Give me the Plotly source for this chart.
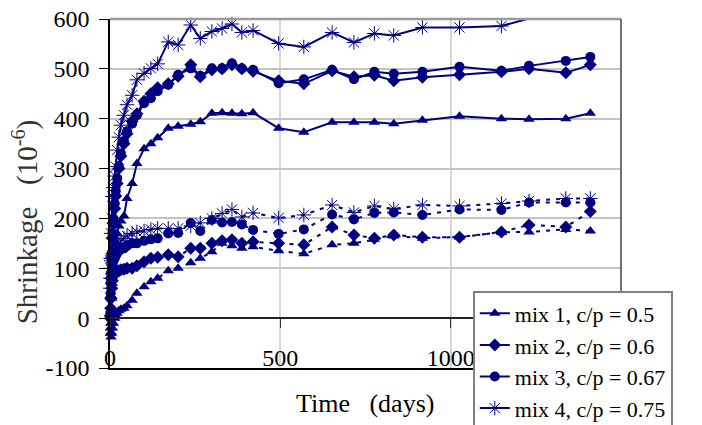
import plotly.graph_objects as go

# Time (days)
t = [1, 2, 3, 5, 7, 10, 14, 17, 21, 26, 32, 41, 50, 65, 79, 100, 120, 140,
     171, 200, 237, 265, 299, 329, 358, 387, 420, 495, 569, 652, 716, 776,
     833, 917, 1026, 1149, 1230, 1338, 1410]

# Solid series (upper curves)
s1 = [-30, -10, 10, 40, 70, 100, 130, 150, 170, 185, 195, 205, 240, 270, 310, 340, 350, 362,
      381, 385, 389, 394, 411, 412, 411, 410, 412, 381, 373, 393, 393, 393,
      390, 397, 405, 400, 399, 400, 411]
s2 = [5, 40, 80, 120, 160, 190, 220, 245, 270, 300, 325, 350, 370, 395, 410, 435, 450, 462,
      470, 485, 508, 484, 498, 500, 508, 500, 495, 476, 470, 496, 484, 487,
      476, 483, 488, 494, 500, 492, 508]
s3 = [10, 50, 90, 130, 170, 200, 230, 255, 280, 305, 330, 355, 375, 390, 407, 431, 441, 455,
      468, 488, 501, 486, 501, 501, 511, 501, 498, 471, 479, 498, 479, 494,
      490, 494, 504, 496, 506, 516, 524]
s4 = [60, 120, 170, 200, 244, 262, 285, 304, 337, 363, 387, 407, 428, 447, 478, 491, 501, 510,
      554, 548, 588, 561, 575, 581, 590, 573, 577, 551, 544, 573, 553, 571,
      567, 583, 583, 586, 601, 601, 606]

# Dotted series (lower curves)
d1 = [-20, -30, -38, -30, -20, -10, 0, 5, 10, 15, 18, 20, 25, 36, 50, 63, 73, 80,
      95, 100, 111, 120, 133, 150, 145, 140, 143, 135, 129, 147, 150, 158,
      165, 160, 163, 172, 173, 178, 175]
d2 = [0, 20, 40, 60, 75, 85, 90, 95, 95, 95, 97, 98, 100, 100, 105, 113, 120, 122,
      127, 123, 140, 140, 150, 155, 157, 150, 153, 150, 147, 183, 167, 160,
      167, 162, 162, 173, 187, 183, 214]
d3 = [40, 70, 90, 100, 110, 115, 120, 125, 130, 135, 138, 140, 145, 150, 150, 155, 158, 160,
      170, 171, 191, 175, 197, 192, 193, 188, 177, 169, 178, 208, 198, 211,
      212, 207, 218, 217, 232, 232, 232]
d4 = [80, 100, 115, 120, 125, 130, 135, 140, 145, 150, 155, 160, 165, 170, 173, 175, 178, 180,
      180, 180, 185, 191, 200, 210, 218, 203, 211, 201, 207, 227, 212, 225,
      219, 227, 225, 230, 235, 240, 240]

names = ["mix 1, c/p = 0.5", "mix 2, c/p = 0.6", "mix 3, c/p = 0.67", "mix 4, c/p = 0.75"]
solid = [s1, s2, s3, s4]
dotted = [d1, d2, d3, d4]
x_ticks = [0, 500, 1000, 1500]
x_ticktext = ["0", "500", "1000", "1500"]
y_ticks = [-100, 0, 100, 200, 300, 400, 500, 600]
y_ticktext = ["-100", "0", "100", "200", "300", "400", "500", "600"]

NAVY = "#000080"
SERIF = "Liberation Serif"
symbols = ["triangle-up", "diamond", "circle", "asterisk-open"]
sizes = [10, 10, 10, 12]

fig = go.Figure()

for i in range(4):
    mk = dict(symbol=symbols[i], size=sizes[i], color=NAVY,
              line=dict(color=NAVY, width=1 if i == 3 else 0))
    fig.add_trace(go.Scatter(
        x=t, y=dotted[i], mode="lines+markers", name=names[i], showlegend=False,
        line=dict(color=NAVY, width=2, dash="4px,6px"), marker=mk,
        cliponaxis=False,
        xaxis="x2" if i == 0 else "x"))

for i in range(4):
    mk = dict(symbol=symbols[i], size=sizes[i], color=NAVY,
              line=dict(color=NAVY, width=1 if i == 3 else 0))
    fig.add_trace(go.Scatter(
        x=t, y=solid[i], mode="lines+markers", name=names[i],
        line=dict(color=NAVY, width=2), marker=mk, cliponaxis=False))

fig.update_layout(
    template="none",
    width=702, height=425,
    margin=dict(l=102, r=89, t=11, b=65, autoexpand=False),
    paper_bgcolor="white", plot_bgcolor="white",
    font=dict(family=SERIF, size=24, color="black"),
    showlegend=True,
    legend=dict(x=0.71, y=0.222, xanchor="left", yanchor="top",
                bgcolor="white", bordercolor="#808080", borderwidth=2,
                font=dict(family=SERIF, size=22, color="black"),
                tracegroupgap=0),
    xaxis=dict(range=[0, 1500], tickvals=x_ticks, automargin=False,
               showgrid=True, gridcolor="#d6d6d6", gridwidth=2,
               showline=True, linecolor="black", linewidth=1.5,
               ticks="", showticklabels=False, zeroline=False),
    xaxis2=dict(range=[0, 1500], matches="x", overlaying="x", anchor="free",
                position=1/7, showgrid=False, automargin=False,
                tickvals=x_ticks, ticktext=x_ticktext,
                ticks="outside", ticklen=9, ticklabeloverflow="allow",
                tickcolor="#333", showline=True, linecolor="#222", linewidth=1.5,
                zeroline=False, ticklabelstandoff=9,
                tickfont=dict(family=SERIF, size=24, color="black")),
    yaxis=dict(range=[-100, 600], tickvals=y_ticks, ticktext=y_ticktext,
               automargin=False, ticklabeloverflow="allow",
               showgrid=True, gridcolor="#c4c4c4", gridwidth=1.5,
               showline=True, linecolor="black", linewidth=1.5,
               ticks="outside", ticklen=9, tickcolor="black",
               zeroline=False, ticklabelstandoff=5,
               tickfont=dict(family=SERIF, size=24, color="black")),
    shapes=[
        dict(type="line", xref="paper", yref="paper", x0=0, x1=1, y0=1, y1=1,
             line=dict(color="#9a9a9a", width=2.5), layer="above"),
        dict(type="line", xref="paper", yref="paper", x0=1, x1=1, y0=0, y1=1,
             line=dict(color="#444", width=1.5), layer="above"),
    ],
    annotations=[
        dict(text="Shrinkage   (10<sup>-6</sup>)", xref="paper", yref="paper",
             x=-0.166, y=0.418, xanchor="center", yanchor="middle",
             textangle=-90, showarrow=False,
             font=dict(family=SERIF, size=29, color="#333")),
        dict(text="Time   (days)", xref="paper", yref="paper",
             x=0.499, y=-0.103, xanchor="center", yanchor="middle",
             showarrow=False,
             font=dict(family=SERIF, size=26, color="black")),
    ],
)

fig.write_html("out.html")
